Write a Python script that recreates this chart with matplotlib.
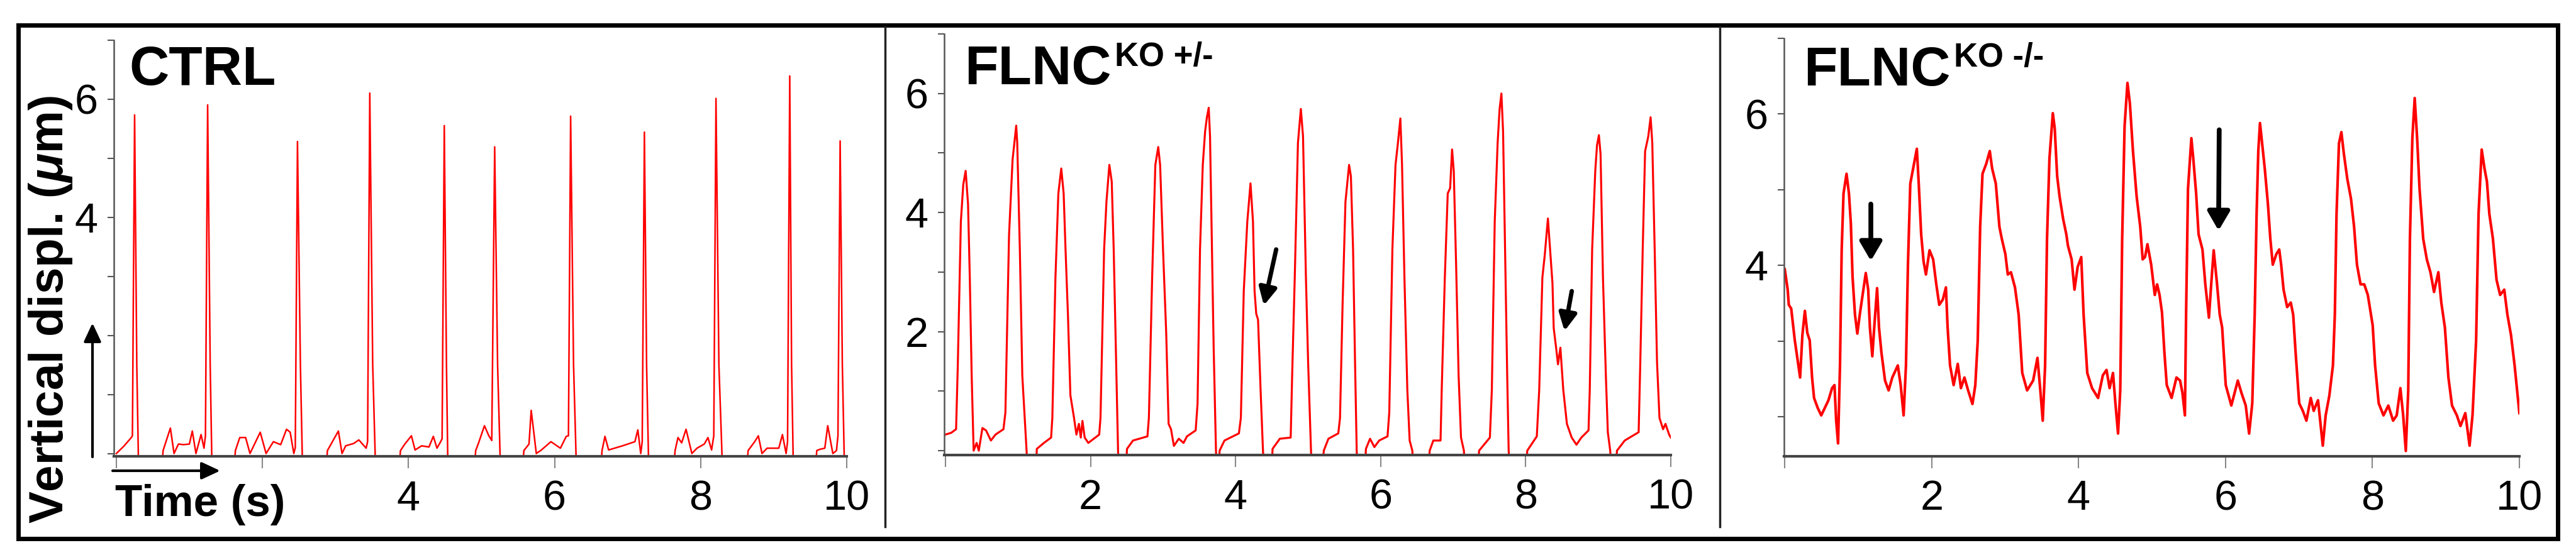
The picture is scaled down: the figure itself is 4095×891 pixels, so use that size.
import matplotlib
matplotlib.use('Agg')
import matplotlib.pyplot as plt
from matplotlib.patches import FancyArrowPatch, Rectangle
from matplotlib.lines import Line2D

plt.rcParams['font.family'] = ['Liberation Sans', 'DejaVu Sans']
plt.rcParams['mathtext.fontset'] = 'custom'
plt.rcParams['mathtext.rm'] = 'Liberation Sans:bold'
plt.rcParams['mathtext.it'] = 'Liberation Sans:italic:bold'
plt.rcParams['mathtext.bf'] = 'Liberation Sans:bold'

# CTRL trace (time s, vertical displacement um)
ctrl_t = [0.0, 0.1, 0.205, 0.22, 0.25, 0.28, 0.305,
          0.62, 0.64, 0.74, 0.79, 0.85, 0.92, 1.0, 1.04, 1.09, 1.16, 1.2, 1.22, 1.25, 1.285, 1.31,
          1.61, 1.63, 1.69, 1.77, 1.83, 1.97, 2.05, 2.15, 2.25, 2.33, 2.38, 2.43, 2.45, 2.48, 2.52, 2.55,
          2.87, 2.89, 3.04, 3.09, 3.14, 3.25, 3.32, 3.42, 3.44, 3.47, 3.51, 3.55,
          3.87, 3.89, 3.95, 4.04, 4.09, 4.18, 4.28, 4.34, 4.39, 4.44, 4.46, 4.49, 4.52, 4.54,
          4.9, 4.92, 4.96, 5.04, 5.1, 5.14, 5.18, 5.22, 5.26,
          5.56, 5.58, 5.65, 5.68, 5.75, 5.82, 5.95, 6.08, 6.16, 6.19, 6.22, 6.26, 6.3,
          6.63, 6.65, 6.69, 6.74, 6.93, 7.1, 7.14, 7.18, 7.2, 7.23, 7.26, 7.29,
          7.63, 7.65, 7.69, 7.74, 7.8, 7.88, 7.95, 8.05, 8.1, 8.15, 8.18, 8.21, 8.25, 8.3,
          8.63, 8.65, 8.74, 8.79, 8.84, 8.91, 9.07, 9.12, 9.17, 9.19, 9.22, 9.245, 9.27,
          9.57, 9.59, 9.63, 9.7, 9.74, 9.81, 9.86, 9.88, 9.91, 9.94, 9.97]
ctrl_y = [0.0, 0.12, 0.27, 0.3, 5.73, 1.5, -0.3,
          -0.3, 0.05, 0.43, 0.0, 0.16, 0.15, 0.16, 0.38, 0.0, 0.32, 0.09, 0.3, 5.9, 1.5, -0.3,
          -0.3, 0.05, 0.27, 0.27, 0.0, 0.36, 0.0, 0.2, 0.15, 0.41, 0.36, 0.0, 0.1, 5.28, 1.5, -0.3,
          -0.3, 0.05, 0.38, 0.0, 0.13, 0.17, 0.23, 0.09, 0.2, 6.1, 1.5, -0.3,
          -0.3, 0.05, 0.16, 0.3, 0.06, 0.13, 0.11, 0.29, 0.09, 0.2, 0.25, 5.55, 1.5, -0.3,
          -0.3, 0.05, 0.18, 0.47, 0.3, 0.22, 5.19, 1.5, -0.3,
          -0.3, 0.05, 0.16, 0.73, 0.0, 0.06, 0.2, 0.09, 0.29, 0.3, 5.71, 1.5, -0.3,
          -0.3, 0.05, 0.29, 0.06, 0.13, 0.2, 0.4, 0.0, 0.2, 5.44, 1.5, -0.3,
          -0.3, 0.05, 0.27, 0.18, 0.41, 0.0, 0.09, 0.16, 0.27, 0.06, 0.3, 6.01, 1.5, -0.3,
          -0.3, 0.05, 0.2, 0.3, 0.0, 0.09, 0.09, 0.32, 0.0, 0.2, 6.39, 1.5, -0.3,
          -0.3, 0.05, 0.07, 0.09, 0.47, 0.0, 0.05, 0.3, 5.29, 1.5, -0.3]

# FLNC KO +/- trace
het_t = [0.0, 0.08, 0.147, 0.17, 0.213, 0.246, 0.279, 0.312, 0.336, 0.362, 0.389, 0.43, 0.46, 0.51, 0.56,
         0.627, 0.69, 0.8, 0.827, 0.877, 0.926, 0.976, 0.99, 1.026, 1.06, 1.119, 1.13, 1.25, 1.26, 1.358,
         1.457, 1.474, 1.517, 1.557, 1.597, 1.63, 1.656, 1.69, 1.723, 1.773, 1.806, 1.84, 1.866, 1.889,
         1.92, 1.97, 2.12, 2.138, 2.188, 2.22, 2.26, 2.293, 2.32, 2.353, 2.38, 2.39, 2.49, 2.503, 2.586,
         2.785, 2.805, 2.85, 2.894, 2.934, 2.96, 3.0, 3.044, 3.077, 3.11, 3.15, 3.217, 3.283, 3.33, 3.45,
         3.476, 3.51, 3.548, 3.58, 3.605, 3.63, 3.648, 3.675, 3.698, 3.73, 3.74, 3.77, 3.78, 3.847, 4.046,
         4.073, 4.113, 4.162, 4.206, 4.24, 4.262, 4.285, 4.31, 4.345, 4.378, 4.39, 4.5, 4.51, 4.61, 4.76,
         4.78, 4.816, 4.86, 4.9, 4.93, 4.97, 5.0, 5.04, 5.05, 5.2, 5.216, 5.28, 5.416, 5.44, 5.475, 5.515,
         5.565, 5.59, 5.62, 5.647, 5.67, 5.68, 5.785, 5.797, 5.854, 5.914, 5.98, 6.095, 6.119, 6.162,
         6.205, 6.235, 6.272, 6.295, 6.328, 6.368, 6.4, 6.437, 6.45, 6.665, 6.676, 6.726, 6.826, 6.842,
         6.885, 6.925, 6.958, 6.985, 7.008, 7.04, 7.075, 7.108, 7.148, 7.16, 7.345, 7.357, 7.506, 7.533,
         7.573, 7.613, 7.64, 7.665, 7.688, 7.722, 7.745, 7.765, 7.78, 8.01, 8.021, 8.153, 8.186, 8.23,
         8.263, 8.306, 8.336, 8.369, 8.386, 8.419, 8.445, 8.478, 8.518, 8.568, 8.634, 8.7, 8.767, 8.866,
         8.883, 8.916, 8.959, 8.983, 9.009, 9.032, 9.065, 9.105, 9.132, 9.165, 9.18, 9.245, 9.258, 9.365,
         9.557, 9.58, 9.613, 9.646, 9.69, 9.722, 9.745, 9.778, 9.81, 9.844, 9.894, 9.927, 9.977, 10.0]
het_y = [0.27, 0.3, 0.36, 1.4, 3.85, 4.47, 4.7, 4.14, 2.91, 1.26, 0.0, 0.13, 0.0, 0.38, 0.34,
         0.17, 0.27, 0.36, 0.64, 3.62, 4.89, 5.46, 5.17, 3.38, 1.26, 0.0, -0.3, -0.3, 0.03, 0.13,
         0.22, 0.55, 2.91, 4.32, 4.74, 4.32, 3.38, 2.25, 0.93, 0.55, 0.27, 0.45, 0.22, 0.5,
         0.22, 0.13, 0.27, 0.55, 3.38, 4.18, 4.8, 4.52, 3.38, 1.5, 0.0, -0.3, -0.3, 0.03, 0.17,
         0.24, 0.55, 2.91, 4.8, 5.1, 4.8, 3.38, 1.97, 0.45, 0.36, 0.08, 0.2, 0.13, 0.24, 0.34,
         0.79, 3.38, 4.8, 5.36, 5.6, 5.76, 5.28, 3.38, 1.73, 0.0, -0.3, -0.3, 0.0, 0.17, 0.29,
         0.55, 2.68, 3.85, 4.49, 3.85, 2.68, 2.3, 2.2, 1.02, 0.0, -0.3, -0.3, 0.03, 0.2, 0.22,
         1.26, 2.91, 5.17, 5.74, 5.28, 2.91, 1.5, 0.0, -0.3, -0.3, 0.0, 0.2, 0.29, 0.55, 2.44, 4.18,
         4.8, 4.61, 3.38, 1.5, 0.0, -0.3, -0.3, 0.03, 0.2, 0.06, 0.17, 0.24, 0.64, 3.38,
         4.8, 5.13, 5.58, 4.8, 2.91, 1.02, 0.17, 0.0, -0.3, -0.3, 0.0, 0.17, 0.17, 1.02,
         2.91, 4.32, 4.41, 5.06, 4.7, 3.15, 1.26, 0.22, 0.0, -0.3, -0.3, 0.0, 0.22, 1.02,
         3.85, 5.17, 5.74, 6.0, 5.36, 2.91, 1.26, 0.0, -0.3, -0.3, 0.0, 0.24, 1.02, 2.91,
         3.29, 3.9, 3.38, 2.81, 2.06, 1.73, 1.45, 1.73, 1.02, 0.45, 0.22, 0.1, 0.22, 0.34,
         1.02, 3.38, 4.7, 5.13, 5.3, 4.98, 2.91, 1.26, 0.31, 0.0, -0.3, -0.3, 0.0, 0.17,
         0.31, 1.5, 3.38, 5.03, 5.28, 5.6, 5.17, 3.38, 1.5, 0.55, 0.36, 0.45, 0.27, 0.22]

# FLNC KO -/- trace
ko_t = [0.0, 0.04, 0.055, 0.088, 0.137, 0.186, 0.209, 0.24, 0.274, 0.307, 0.34, 0.372, 0.399, 0.448,
        0.497, 0.546, 0.595, 0.644, 0.677, 0.7, 0.726, 0.752, 0.775, 0.8, 0.841, 0.874, 0.9, 0.923,
        0.956, 0.988, 1.021, 1.07, 1.103, 1.136, 1.159, 1.192, 1.218, 1.257, 1.283, 1.316, 1.365, 1.414,
        1.464, 1.539, 1.578, 1.618, 1.65, 1.677, 1.709, 1.759, 1.798, 1.824, 1.857, 1.89, 1.922, 1.971,
        2.02, 2.063, 2.103, 2.152, 2.194, 2.217, 2.25, 2.299, 2.355, 2.398, 2.446, 2.496, 2.555, 2.594,
        2.627, 2.66, 2.692, 2.742, 2.791, 2.823, 2.873, 2.922, 2.955, 3.003, 3.036, 3.079, 3.134, 3.184,
        3.233, 3.299, 3.381, 3.44, 3.479, 3.512, 3.544, 3.57, 3.603, 3.649, 3.675, 3.708, 3.741, 3.79,
        3.833, 3.855, 3.905, 3.944, 3.987, 4.036, 4.068, 4.118, 4.183, 4.265, 4.33, 4.38, 4.422, 4.468,
        4.501, 4.537, 4.567, 4.593, 4.626, 4.665, 4.698, 4.74, 4.79, 4.839, 4.872, 4.904, 4.937, 4.988,
        5.037, 5.069, 5.102, 5.135, 5.168, 5.2, 5.266, 5.332, 5.381, 5.413, 5.447, 5.463, 5.489, 5.535,
        5.561, 5.6, 5.633, 5.686, 5.725, 5.774, 5.807, 5.839, 5.882, 5.921, 5.954, 6.003, 6.079, 6.167,
        6.216, 6.275, 6.321, 6.364, 6.397, 6.423, 6.446, 6.469, 6.495, 6.534, 6.577, 6.61, 6.643, 6.692,
        6.731, 6.757, 6.79, 6.839, 6.888, 6.921, 6.954, 7.003, 7.052, 7.101, 7.16, 7.2, 7.259, 7.324,
        7.363, 7.413, 7.462, 7.488, 7.511, 7.544, 7.577, 7.61, 7.658, 7.708, 7.75, 7.789, 7.838, 7.888,
        7.937, 8.003, 8.036, 8.085, 8.15, 8.216, 8.281, 8.33, 8.38, 8.418, 8.454, 8.487, 8.51, 8.543,
        8.575, 8.608, 8.641, 8.691, 8.74, 8.789, 8.838, 8.897, 8.937, 8.986, 9.034, 9.083, 9.149, 9.198,
        9.264, 9.322, 9.362, 9.411, 9.444, 9.487, 9.525, 9.558, 9.591, 9.64, 9.689, 9.738, 9.794, 9.837,
        9.886, 9.935, 10.0]
ko_y = [3.95, 3.68, 3.48, 3.43, 3.01, 2.68, 2.52, 3.08, 3.4, 3.11, 3.01, 2.52, 2.25, 2.12,
        2.02, 2.12, 2.22, 2.38, 2.42, 1.95, 1.65, 2.68, 4.21, 4.95, 5.21, 4.95, 4.55, 3.85,
        3.35, 3.1, 3.35, 3.68, 3.9, 3.68, 3.18, 2.8, 3.18, 3.7, 3.18, 2.85, 2.48, 2.35,
        2.52, 2.68, 2.42, 2.02, 2.68, 4.01, 5.08, 5.34, 5.54, 5.08, 4.41, 4.05, 3.88, 4.2,
        4.08, 3.75, 3.48, 3.55, 3.71, 3.18, 2.68, 2.42, 2.7, 2.38, 2.52, 2.35, 2.17, 2.42,
        3.01, 4.51, 5.21, 5.34, 5.51, 5.28, 5.08, 4.51, 4.35, 4.15, 3.88, 3.91, 3.71, 3.35,
        2.58, 2.35, 2.48, 2.78, 2.35, 1.95, 2.68, 4.35, 5.41, 6.01, 5.81, 5.18, 4.91, 4.61,
        4.41, 4.26, 4.08, 3.68, 3.98, 4.11, 3.35, 2.58, 2.38, 2.25, 2.55, 2.62, 2.38, 2.58,
        2.18, 1.78, 2.35, 4.35, 5.84, 6.41, 6.14, 5.51, 4.91, 4.51, 4.08, 4.11, 4.28, 4.01,
        3.61, 3.75, 3.61, 3.38, 2.85, 2.42, 2.25, 2.52, 2.48, 2.32, 2.02, 3.35, 5.01, 5.68,
        5.41, 4.95, 4.41, 4.21, 3.75, 3.31, 3.78, 4.2, 3.78, 3.35, 3.18, 2.42, 2.15, 2.48,
        2.32, 2.15, 1.78, 2.18, 3.35, 4.68, 5.51, 5.88, 5.64, 5.28, 4.81, 4.35, 4.01, 4.15,
        4.21, 4.01, 3.68, 3.45, 3.51, 3.35, 2.85, 2.18, 2.08, 1.95, 2.25, 2.08, 2.22, 1.62,
        2.02, 2.28, 2.68, 3.35, 4.68, 5.61, 5.76, 5.48, 5.14, 4.88, 4.51, 4.01, 3.75, 3.75,
        3.61, 3.21, 2.68, 2.18, 2.02, 2.15, 1.95, 2.02, 2.38, 2.02, 1.55, 2.35, 4.35, 5.68,
        6.21, 5.68, 5.01, 4.35, 4.08, 3.91, 3.65, 3.91, 3.51, 3.18, 2.52, 2.15, 2.02, 1.88,
        2.05, 1.62, 2.02, 3.01, 4.68, 5.53, 5.28, 5.11, 4.68, 4.35, 3.81, 3.61, 3.68, 3.35,
        3.08, 2.68, 2.05]

panel_titles = ['CTRL', 'FLNC', 'FLNC']
panel_sups = ['', 'KO +/-', 'KO -/-']
x_ticks = [0, 2, 4, 6, 8, 10]
x_labels_ctrl = ['', '', '4', '6', '8', '10']
x_labels = ['', '2', '4', '6', '8', '10']
y_ticks_full = [0, 1, 2, 3, 4, 5, 6, 7]
y_labels_ctrl = ['', '', '', '', '4', '', '6', '']
y_labels_het = ['', '', '2', '', '4', '', '6', '']
y_ticks_ko = [2, 3, 4, 5, 6, 7]
y_labels_ko = ['', '', '4', '', '6', '']

W, H = 4095, 891
fig = plt.figure(figsize=(W / 100, H / 100), dpi=100)

ax1 = fig.add_axes([181 / W, 0.1849, 1165 / W, 0.7438])
ax2 = fig.add_axes([1500.6 / W, 0.1874, 1155.4 / W, 0.752])
ax3 = fig.add_axes([2836 / W, 0.1852, 1169 / W, 0.7466])

ax1.plot(ctrl_t, ctrl_y, color='#ff0000', lw=1.8)
ax2.plot(het_t, het_y, color='#ff0000', lw=2.3)
ax3.plot(ko_t, ko_y, color='#ff0000', lw=3.0)

ax1.set_xlim(-0.034, 10)
ax1.set_ylim(-0.05, 7.0)
ax2.set_xlim(-0.02, 10)
ax2.set_ylim(-0.074, 7.0)
ax3.set_xlim(-0.01, 10)
ax3.set_ylim(1.48, 7.0)

ax1.set_xticks(x_ticks, x_labels_ctrl)
ax2.set_xticks(x_ticks, x_labels)
ax3.set_xticks(x_ticks, x_labels)
ax1.set_yticks(y_ticks_full, y_labels_ctrl)
ax2.set_yticks(y_ticks_full, y_labels_het)
ax3.set_yticks(y_ticks_ko, y_labels_ko)

for ax in (ax1, ax2, ax3):
    ax.spines['top'].set_visible(False)
    ax.spines['right'].set_visible(False)
    ax.spines['left'].set_color('#555555')
    ax.spines['left'].set_linewidth(1.8)
    ax.spines['bottom'].set_color('#444444')
    ax.spines['bottom'].set_linewidth(3.0)
    ax.tick_params(axis='x', length=14, width=1.5, color='#888888', pad=13, labelsize=48)
    ax.tick_params(axis='y', length=7, width=1.5, color='#555555', pad=11, labelsize=48)
    ax.patch.set_alpha(0)

# panel titles
fig.text(205 / W, 0.8485, 'CTRL', fontsize=63, fontweight='bold', va='baseline')
fig.text(1533 / W, 0.8496, 'FLNC', fontsize=63, fontweight='bold', va='baseline')
fig.text(1772 / W, 0.8822, panel_sups[1], fontsize=38, fontweight='bold', va='baseline')
fig.text(2867 / W, 0.8474, 'FLNC', fontsize=63, fontweight='bold', va='baseline')
fig.text(3106 / W, 0.8810, panel_sups[2], fontsize=38, fontweight='bold', va='baseline')

# axis labels
fig.text(80 / W, 0.4467, r'Vertical displ. ($\mu$m)', rotation=90, fontsize=55,
         fontweight='bold', ha='center', va='center')
fig.text(183 / W, 0.0786, 'Time (s)', fontsize=51, fontweight='bold', va='baseline')

# direction arrows next to CTRL axes
axis_arrow = dict(arrowstyle='-|>,head_length=0.6,head_width=0.28', mutation_scale=30,
                  lw=3, color='k', shrinkA=0, shrinkB=0, transform=fig.transFigure)
fig.add_artist(FancyArrowPatch((147 / W, 164 / H), (147 / W, 377 / H), **axis_arrow))
fig.add_artist(FancyArrowPatch((179 / W, 142 / H), (350 / W, 142 / H), **axis_arrow))

# arrows marking the irregular beats
het_arrow = dict(arrowstyle='-|>,head_length=0.55,head_width=0.28', mutation_scale=30,
                 lw=5, color='k', shrinkA=0, shrinkB=0)
ax2.annotate('', xy=(4.39, 2.44), xytext=(4.56, 3.38), arrowprops=het_arrow)
ax2.annotate('', xy=(8.535, 2.01), xytext=(8.635, 2.68), arrowprops=het_arrow)
ko_arrow = dict(arrowstyle='-|>,head_length=0.6,head_width=0.35', mutation_scale=30,
                lw=5.5, color='k', shrinkA=0, shrinkB=0)
ax3.annotate('', xy=(1.172, 4.06), xytext=(1.172, 4.81), arrowprops=ko_arrow)
ax3.annotate('', xy=(5.905, 4.46), xytext=(5.914, 5.79), arrowprops=ko_arrow)

# outer frame and panel dividers
fig.add_artist(Rectangle((29 / W, 34 / H), 4037 / W, 817 / H, transform=fig.transFigure,
                         fill=False, lw=5, ec='k'))
for xd in (1407, 2734):
    fig.add_artist(Line2D([xd / W, xd / W], [53 / H, 848 / H], transform=fig.transFigure,
                          lw=2.5, color='#222222'))

fig.savefig('out.png', dpi=100)
